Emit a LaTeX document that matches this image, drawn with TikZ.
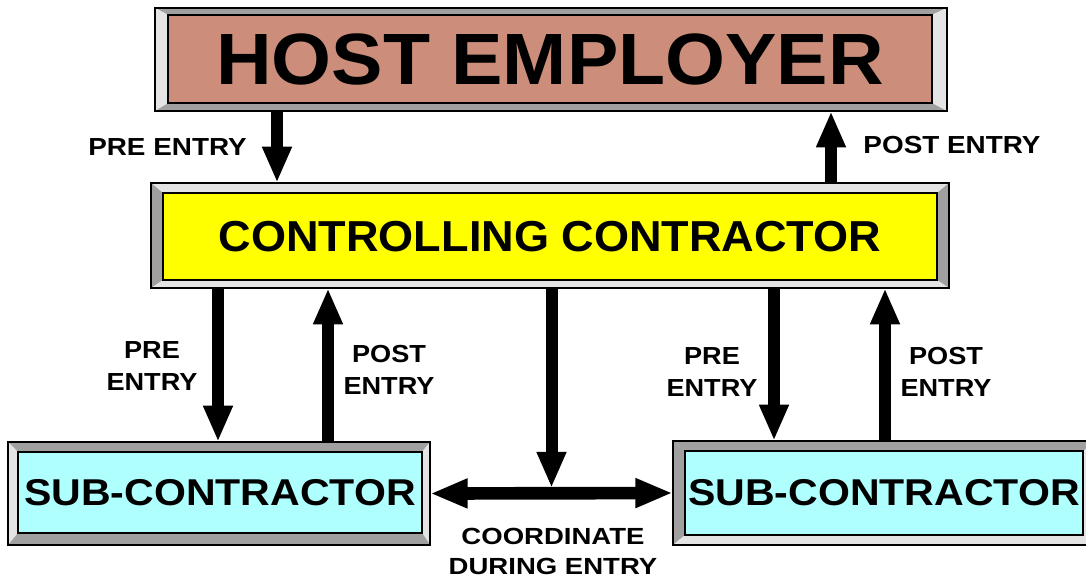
\documentclass[tikz,border=0pt]{standalone}
\usepackage{fontspec}
\setmainfont{Liberation Sans}
\usetikzlibrary{arrows.meta,calc}

\definecolor{hostfill}{RGB}{204,142,122}
\definecolor{ctrlfill}{RGB}{255,255,0}
\definecolor{subfill}{RGB}{176,255,255}
\definecolor{bevdark}{RGB}{160,160,160}
\definecolor{bevlight}{RGB}{228,228,228}

\newcommand{\pxu}{0.75pt}
% bevel between an outer frame and its inner panel: top, left, right, bottom
\newcommand{\bevel}[6]{%
  \fill[#3] (#1.north west) -- (#1.north east) -- (#2.north east) -- (#2.north west) -- cycle;
  \fill[#4] (#1.north west) -- (#2.north west) -- (#2.south west) -- (#1.south west) -- cycle;
  \fill[#5] (#1.north east) -- (#1.south east) -- (#2.south east) -- (#2.north east) -- cycle;
  \fill[#6] (#1.south west) -- (#1.south east) -- (#2.south east) -- (#2.south west) -- cycle;
  \draw[line width=1.5pt] (#1.north west) rectangle (#1.south east);
  \draw[line width=1.2pt] (#2.north west) rectangle (#2.south east);
}

\begin{document}
\begin{tikzpicture}[x=0.75pt, y=-0.75pt,
    frame/.style={rectangle, inner sep=0pt},
    panel/.style={rectangle, inner sep=0pt, font=\bfseries},
    lbl/.style={font=\bfseries\fontsize{18.5}{24}\selectfont, align=center},
    flow/.style={line width=9pt, -{Triangle[width=20.5pt,length=27pt]}},
    both/.style={line width=9.5pt, {Triangle[width=20.5pt,length=28pt]}-{Triangle[width=20.5pt,length=28pt]}}]
  \clip (0,0) rectangle (1086,579);
  \fill[white] (0,0) rectangle (1086,579);

  % boxes: outer frame, then inner panel
  \node[frame, minimum width=792*\pxu, minimum height=103*\pxu] (hostF) at (551,59.5) {};
  \node[frame, minimum width=798*\pxu, minimum height=105*\pxu] (ctrlF) at (550,235.5) {};
  \node[frame, minimum width=422*\pxu, minimum height=103*\pxu] (subLF) at (219,493.5) {};
  \node[frame, minimum width=424*\pxu, minimum height=104*\pxu] (subRF) at (885,493) {};

  \node[panel, fill=hostfill, minimum width=764*\pxu, minimum height=88*\pxu] (host) at (550,59)
    {\fontsize{54.5}{60}\selectfont\scalebox{1.06}[1]{HOST EMPLOYER}};
  \node[panel, fill=ctrlfill, minimum width=774*\pxu, minimum height=87*\pxu] (ctrl) at (550,236.5)
    {\fontsize{32.5}{36}\selectfont\scalebox{1.04}[1]{CONTROLLING CONTRACTOR}};
  \node[panel, fill=subfill, minimum width=404*\pxu, minimum height=81*\pxu] (subL) at (220,492.5)
    {\fontsize{28}{32}\selectfont\scalebox{1.1}[1]{SUB-CONTRACTOR}};
  \node[panel, fill=subfill, minimum width=398*\pxu, minimum height=84*\pxu] (subR) at (884,493)
    {\fontsize{28}{32}\selectfont\scalebox{1.1}[1]{SUB-CONTRACTOR}};

  \bevel{hostF}{host}{bevdark}{bevlight}{bevlight}{bevdark}
  \bevel{ctrlF}{ctrl}{bevlight}{bevdark}{bevdark}{bevlight}
  \bevel{subLF}{subL}{bevdark}{bevlight}{bevlight}{bevdark}
  \bevel{subRF}{subR}{bevdark}{bevdark}{bevlight}{bevlight}

  % host <-> controlling
  \draw[flow] (hostF.south -| 277,0) -- (ctrlF.north -| 277,0);
  \draw[flow] (ctrlF.north -| 831,0) -- (hostF.south -| 831,0);
  % controlling <-> subs
  \draw[flow] (ctrlF.south -| 218,0) -- (subLF.north -| 218,0);
  \draw[flow] (subLF.north -| 328,0) -- (ctrlF.south -| 328,0);
  \draw[flow] (ctrlF.south -| 774,0) -- (subRF.north -| 774,0);
  \draw[flow] (subRF.north -| 885,0) -- (ctrlF.south -| 885,0);
  % coordination between subs
  \coordinate (meet) at ($(subLF.east)!0.5!(subRF.west)$);
  \draw[both] (subLF.east) -- (subRF.west);
  \draw[flow] (ctrlF.south -| meet) -- ([yshift=4pt]meet);

  % labels
  \node[lbl] (preTop) at (167.5,147) {\scalebox{1.13}[1]{PRE ENTRY}};
  \node[lbl] (postTop) at (952,145) {\scalebox{1.13}[1]{POST ENTRY}};
  \node[lbl] (preL) at (152,366) {\scalebox{1.1}[1]{PRE}\\\scalebox{1.1}[1]{ENTRY}};
  \node[lbl] (postL) at (389,370) {\scalebox{1.1}[1]{POST}\\\scalebox{1.1}[1]{ENTRY}};
  \node[lbl] (preR) at (712,372) {\scalebox{1.1}[1]{PRE}\\\scalebox{1.1}[1]{ENTRY}};
  \node[lbl] (postR) at (946,372) {\scalebox{1.1}[1]{POST}\\\scalebox{1.1}[1]{ENTRY}};
  \node[lbl, font=\bfseries\fontsize{17.5}{22.5}\selectfont] (coord) at (553,551)
    {\scalebox{1.18}[1]{COORDINATE}\\\scalebox{1.18}[1]{DURING ENTRY}};
\end{tikzpicture}
\end{document}
